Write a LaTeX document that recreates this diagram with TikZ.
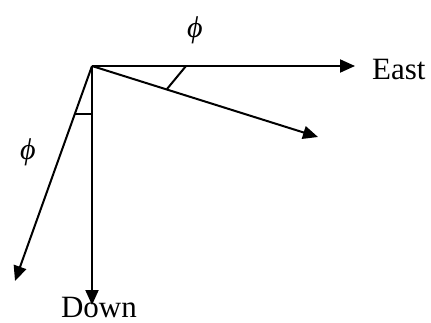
\documentclass[tikz,border=0pt]{standalone}
\usepackage{fontspec}
\setmainfont{Liberation Serif}
\usetikzlibrary{arrows.meta}
\begin{document}
\begin{tikzpicture}[x=1pt,y=1pt,
  vec/.style={line width=2pt,-{Triangle[length=15pt,width=13pt]}},
  anglebar/.style={line width=2pt},
  lbl/.style={font=\fontsize{31}{33}\selectfont, inner sep=0pt},
  philbl/.style={font=\fontsize{30}{32}\selectfont\itshape, inner sep=0pt}]
\useasboundingbox (0,0) rectangle (431,322);
\coordinate (O) at (92,256);
\coordinate (E) at (355,256);
\coordinate (R) at (318,185);
\coordinate (D) at (92,17);
\coordinate (L) at (15,41);
\coordinate (m1a) at (186,256);
\coordinate (m1b) at (167,233);
\coordinate (m2a) at (74,208);
\coordinate (m2b) at (92,208);
\draw[vec] (O) -- (E);
\draw[vec] (O) -- (R);
\draw[vec] (O) -- (D);
\draw[vec] (O) -- (L);
\draw[anglebar] (m1a) -- (m1b);
\draw[anglebar] (m2a) -- (m2b);
\node[lbl, anchor=west] (east) at (372,252) {East};
\node[lbl, anchor=north] (down) at (99,25) {Down};
\node[philbl] (phi1) at (195,292) {ϕ};
\node[philbl] (phi2) at (28,170) {ϕ};
\end{tikzpicture}
\end{document}
